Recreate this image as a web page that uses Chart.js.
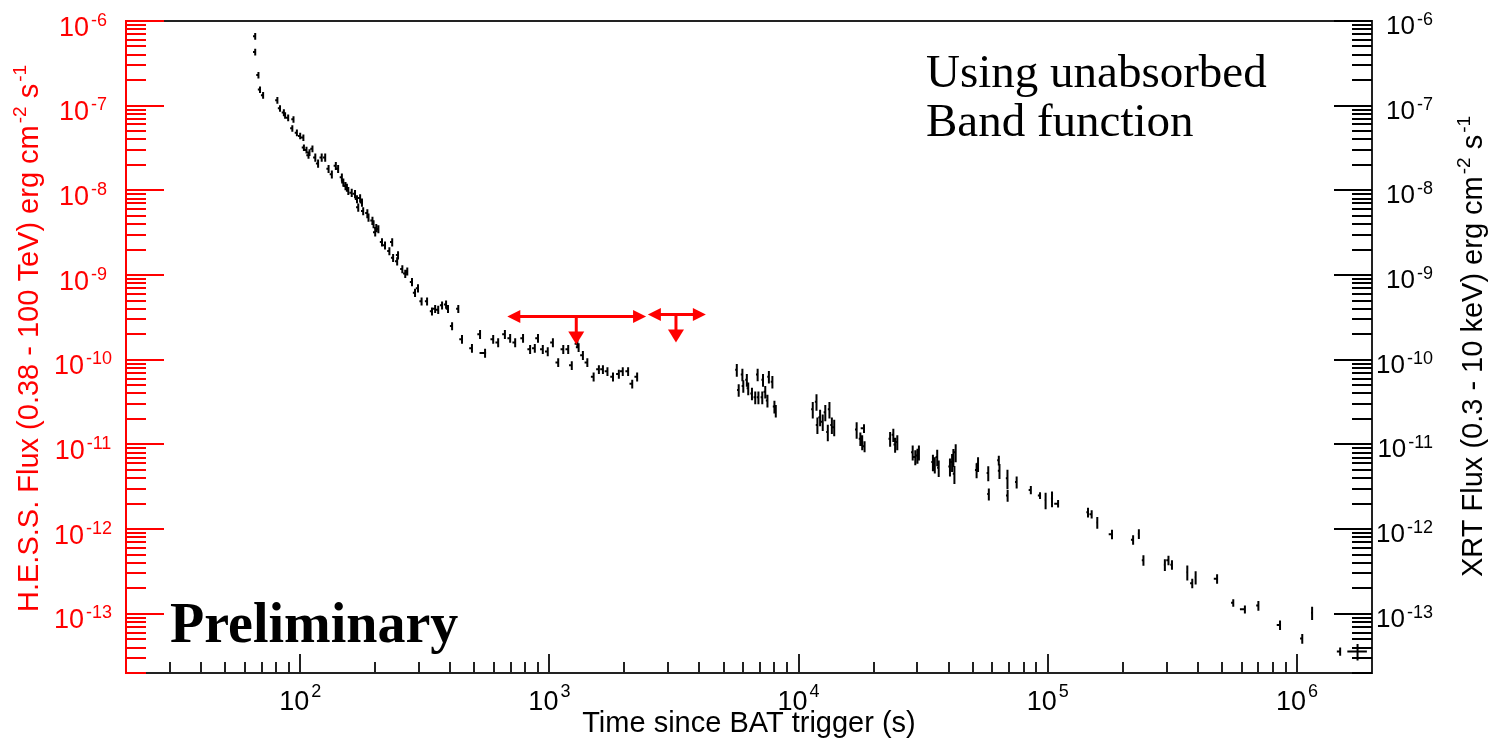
<!DOCTYPE html>
<html>
<head>
<meta charset="utf-8">
<script src="https://cdn.jsdelivr.net/npm/chart.js@4.4.0/dist/chart.umd.min.js"></script>
<style>
html,body{margin:0;padding:0;background:#fff;}
#wrap{width:1495px;height:741px;position:relative;}
</style>
</head>
<body>
<div id="wrap"><canvas id="c"></canvas></div>
<script>
// ---------------- DATA ----------------
// Swift XRT light curve (time since BAT trigger [s], flux [erg cm^-2 s^-1])
const xrtTime = [
 66, 66, 68, 69, 71, 81, 83, 86, 87, 89.5,
 93, 94, 97, 100, 103, 103.5, 106, 108, 109, 112,
 115, 118, 122, 126, 130, 134, 139, 142, 147, 149,
 152, 154, 156, 161, 166, 169, 171, 174, 177, 179,
 186, 188, 195, 197, 200, 202, 206, 213, 219, 228,
 234, 236, 245, 247, 257, 264, 269, 281, 289, 297,
 307, 323, 338, 348, 358, 371, 385, 392, 407, 431,
 446, 489, 527, 552, 595, 623, 663, 696, 729, 784,
 837, 874, 900, 941, 985, 1033, 1085, 1137, 1190, 1230,
 1295, 1310, 1363, 1420, 1505, 1580, 1640, 1710, 1800, 1900,
 1970, 2070, 2150, 2250,
 5650, 5750, 5950, 6000, 6200, 6280, 6500, 6700, 6850, 6900,
 7150, 7200, 7350, 7500, 7600, 7850, 8000, 8100,
 11400, 11800, 11900, 12200, 12500, 12800, 13100, 13300, 13600, 13900,
 17100, 17700, 18000, 18300, 18400,
 23300, 24000, 24400, 24900,
 28700, 29400, 30000, 30400,
 34600, 35200, 36000, 36500,
 40500, 41300, 41800, 42200, 42700,
 51800, 52500, 57700, 58000, 63600, 64000, 68900, 69000, 75000,
 85500, 93100, 98000, 104000, 110000,
 145000, 150000, 158000, 181000, 220000, 232000, 242000,
 295000, 305000, 315000, 363000, 380000, 392000, 478000,
 555000, 618000, 700000, 855000, 1050000, 1150000, 1490000, 1750000
];
const xrtFlux = [
 6.6e-7, 4.3e-7, 2.3e-7, 1.55e-7, 1.33e-7, 1.16e-7, 9.3e-8, 8.3e-8, 7.7e-8, 7.2e-8,
 5.4e-8, 6.9e-8, 4.8e-8, 4.4e-8, 4.2e-8, 3.2e-8, 3.0e-8, 2.6e-8, 2.8e-8, 3.1e-8,
 2.45e-8, 2.08e-8, 2.45e-8, 2.45e-8, 1.8e-8, 1.55e-8, 1.95e-8, 1.8e-8, 1.43e-8, 1.24e-8,
 1.13e-8, 1.08e-8, 9.9e-9, 9.4e-9, 9.1e-9, 7.9e-9, 6.3e-9, 8.1e-9, 7.2e-9, 5.7e-9,
 5.4e-9, 4.8e-9, 4.4e-9, 4.0e-9, 3.2e-9, 3.6e-9, 3.5e-9, 2.45e-9, 2.25e-9, 1.92e-9,
 2.45e-9, 1.6e-9, 1.46e-9, 1.72e-9, 1.18e-9, 1.04e-9, 1.11e-9, 8.3e-10, 6.2e-10, 7.0e-10,
 4.9e-10, 4.9e-10, 3.73e-10, 4.0e-10, 3.9e-10, 4.4e-10, 4.5e-10, 4.0e-10, 2.5e-10, 4.0e-10,
 1.75e-10, 1.37e-10, 2.0e-10, 1.2e-10, 1.75e-10, 1.6e-10, 2.0e-10, 1.8e-10, 1.6e-10, 1.8e-10,
 1.33e-10, 1.37e-10, 1.8e-10, 1.33e-10, 1.25e-10, 1.6e-10, 9.3e-11, 1.33e-10, 1.33e-10, 8.6e-11,
 1.55e-10, 1.4e-10, 1.13e-10, 9.3e-11, 6.3e-11, 7.7e-11, 7.7e-11, 7.3e-11, 6.3e-11, 6.8e-11,
 7.3e-11, 7.3e-11, 5.2e-11, 6.3e-11,
 7.6e-11, 4.4e-11, 6.7e-11, 4.9e-11, 5.8e-11, 4.6e-11, 4.0e-11, 3.6e-11, 6.7e-11, 3.6e-11,
 3.6e-11, 5.8e-11, 4.2e-11, 3.3e-11, 6.3e-11, 5.5e-11, 2.8e-11, 2.5e-11,
 2.6e-11, 3.2e-11, 1.7e-11, 2.1e-11, 1.85e-11, 2.4e-11, 1.4e-11, 2.6e-11, 1.7e-11, 1.6e-11,
 1.5e-11, 1.17e-11, 1.07e-11, 1.55e-11, 9.5e-12,
 1.17e-11, 1.3e-11, 1.0e-11, 1.07e-11,
 8.1e-12, 7.1e-12, 7.4e-12, 8.1e-12,
 6.2e-12, 5.8e-12, 7.1e-12, 5.3e-12,
 5.5e-12, 6.2e-12, 7.1e-12, 4.5e-12, 8.1e-12,
 5.0e-12, 5.9e-12, 4.6e-12, 2.6e-12, 6.5e-12, 4.9e-12, 4.0e-12, 2.5e-12, 3.6e-12,
 2.9e-12, 2.5e-12, 2.2e-12, 2.3e-12, 2.0e-12,
 1.58e-12, 1.5e-12, 1.2e-12, 8.7e-13, 7.5e-13, 8.8e-13, 4.3e-13,
 3.8e-13, 4.3e-13, 3.8e-13, 3.1e-13, 2.3e-13, 2.7e-13, 2.6e-13,
 1.35e-13, 1.13e-13, 1.25e-13, 7.4e-14, 5.1e-14, 1.03e-13, 3.6e-14, 3.6e-14
];
// time-bin extent before the point, in percent of the time
const xrtTimeErrLoPct = [
 2,2,2,2,2,2,2,2,2,2,
 2,2,2,2,2,2,2,2,2,2,
 2,2,2,2,2,2,2,2,2,2,
 2,2,2,2,2,2,2,2,2,2,
 2,2,2,2,2,2,2,2,2,2,
 2,2,2,2,2,2,2,2,2,2,
 2,2,2,2,2,2,2,2,2,2,
 2.5,2.5,2.5,5,2.5,2.5,2.5,2.5,2.5,2.5,
 2.5,2.5,2.5,2.5,2.5,2.5,2.5,2.5,2.5,2.5,
 2.5,2.5,2.5,2.5,2.5,2.5,2.5,2.5,2.5,2.5,
 2.5,2.5,2.5,2.5,
 1.5,1.5,1.5,1.5,1.5,1.5,1.5,1.5,1.5,1.5,
 1.5,1.5,1.5,1.5,1.5,1.5,1.5,1.5,
 1.5,1.5,1.5,1.5,1.5,1.5,1.5,1.5,1.5,1.5,
 1.5,1.5,1.5,3,1.5,
 1.5,1.5,1.5,1.5,
 1.5,1.5,1.5,1.5,
 1.5,1.5,1.5,1.5,
 1.5,1.5,1.5,1.5,1.5,
 1.5,1.5,1.5,1.5,1.5,1.5,1.5,1.5,1.5,
 2,2,1,1,3.5,
 1.5,2,1,3,2,1,1.5,
 1,2,1.5,1,2,1,3,
 2,4.5,2,3,2,1,3,9
];
// time-bin extent after the point, in percent of the time
const xrtTimeErrHiPct = [
 0.4,0.4,0.4,0.4,0.4,0.4,0.4,0.4,0.4,0.4,
 0.4,0.4,0.4,0.4,0.4,0.4,0.4,0.4,0.4,0.4,
 0.4,0.4,0.4,0.4,0.4,0.4,0.4,0.4,0.4,0.4,
 0.4,0.4,0.4,0.4,0.4,0.4,0.4,0.4,0.4,0.4,
 0.4,0.4,0.4,0.4,0.4,0.4,0.4,0.4,0.4,0.4,
 0.4,0.4,0.4,0.4,0.4,0.4,0.4,0.4,0.4,0.4,
 0.4,0.4,0.4,0.4,0.4,0.4,0.4,0.4,0.4,0.4,
 0.4,0.4,0.4,1,0.4,0.4,0.4,0.4,0.4,0.4,
 0.4,0.4,0.4,0.4,0.4,0.4,0.4,0.4,0.4,0.4,
 0.4,0.4,0.4,0.4,0.4,0.4,0.4,0.4,0.4,0.4,
 0.4,0.4,0.4,0.4,
 0.3,0.3,0.3,0.3,0.3,0.3,0.3,0.3,0.3,0.3,
 0.3,0.3,0.3,0.3,0.3,0.3,0.3,0.3,
 0.3,0.3,0.3,0.3,0.3,0.3,0.3,0.3,0.3,0.3,
 0.3,0.3,0.3,0.5,0.3,
 0.3,0.3,0.3,0.3,
 0.3,0.3,0.3,0.3,
 0.3,0.3,0.3,0.3,
 0.3,0.3,0.3,0.3,0.3,
 0.3,0.3,0.3,0.3,0.3,0.3,0.3,0.3,0.3,
 0.3,0.3,0.3,0.3,0.5,
 0.3,0.3,0.3,0.5,0.3,0.3,0.3,
 0.3,0.3,0.3,0.3,0.3,0.3,0.5,
 0.3,0.5,0.3,0.3,0.3,0.3,0.3,9
];
// 1-sigma flux error, in percent of the flux
const xrtFluxErrPct = [
 9,9,9,9,9,9,9,9,9,9,
 9,9,9,9,9,9,9,9,9,9,
 11,11,11,11,11,11,11,11,11,11,
 11,11,11,11,11,11,11,11,11,11,
 11,11,11,11,11,11,11,11,11,11,
 11,11,11,11,11,11,11,11,11,11,
 11,11,11,11,11,11,11,11,11,11,
 12,12,12,12,12,12,12,12,12,12,
 12,12,12,12,12,12,12,12,12,12,
 12,12,12,12,12,12,12,12,12,12,
 12,12,12,12,
 17,17,17,17,17,17,17,17,17,17,
 17,17,17,17,17,17,17,17,
 22,22,22,22,22,22,22,22,22,22,
 22,18,20,12,15,
 20,18,20,20,
 20,20,20,20,
 22,22,22,22,
 24,24,24,24,24,
 20,20,20,16,13,20,26,16,16,
 11,9,22,21,10,
 13,11,16,13,13,13,14,
 16,13,13,20,13,18,13,
 10,11,13,13,13,18,11,22
];
// H.E.S.S. upper limits
const hessStart = [678, 2484];
const hessStop  = [2443, 4246];
const hessTime  = [1282, 3221];
const hessUL    = [3.25e-10, 3.43e-10];

// axes
const xRange = [20, 2e6];
const yRange = [2e-14, 1e-6];
const xLabelExps = [2, 3, 4, 5, 6];
const yLabelExps = [-6, -7, -8, -9, -10, -11, -12, -13];
const xTitle = 'Time since BAT trigger (s)';
const yLeftTitle  = [['H.E.S.S. Flux (0.38 - 100 TeV) erg cm', 0], ['-2', 1], [' s', 0], ['-1', 1]];
const yRightTitle = [['XRT Flux (0.3 - 10 keV) erg cm', 0], ['-2', 1], [' s', 0], ['-1', 1]];
const noteLines = ['Using unabsorbed', 'Band function'];
const stampText = 'Preliminary';

// ---------------- RENDER ----------------
const SANS = '"Liberation Sans", Arial, Helvetica, sans-serif';
const SERIF = '"Liberation Serif", "Times New Roman", serif';
const RED = '#ff0000';

function logTicks(min, max) {
  const out = [];
  for (let e = Math.floor(Math.log10(min)) - 1; e <= Math.ceil(Math.log10(max)); e++) {
    for (let m = 1; m <= 9; m++) {
      const v = m * Math.pow(10, e);
      if (v >= min * 0.9999 && v <= max * 1.0001) out.push({ v: v, major: m === 1 });
    }
  }
  return out;
}

function richWidth(ctx, parts, size, supSize) {
  let w = 0;
  for (const p of parts) {
    ctx.font = (p[1] ? supSize : size) + 'px ' + SANS;
    w += ctx.measureText(p[0]).width + (p[1] ? 2 : 0);
  }
  return w;
}
function drawRich(ctx, parts, x, y, size, supSize, rise, align) {
  const w = richWidth(ctx, parts, size, supSize);
  let cx = align === 'center' ? x - w / 2 : (align === 'right' ? x - w : x);
  ctx.textAlign = 'left';
  ctx.textBaseline = 'alphabetic';
  for (const p of parts) {
    ctx.font = (p[1] ? supSize : size) + 'px ' + SANS;
    if (p[1]) cx += 2;
    ctx.fillText(p[0], cx, p[1] ? y - rise : y);
    cx += ctx.measureText(p[0]).width;
  }
}

const errorBarPlugin = {
  id: 'errorBars',
  afterDatasetsDraw(chart) {
    const ctx = chart.ctx, xs = chart.scales.x, ys = chart.scales.y, a = chart.chartArea;
    ctx.save();
    ctx.beginPath();
    ctx.rect(a.left, a.top, a.right - a.left, a.bottom - a.top);
    ctx.clip();
    // XRT points
    const xrt = chart.data.datasets[0].data;
    ctx.strokeStyle = '#000';
    ctx.lineWidth = 2;
    ctx.beginPath();
    for (const d of xrt) {
      const px = xs.getPixelForValue(d.x), py = ys.getPixelForValue(d.y);
      const x1 = xs.getPixelForValue(d.x * (1 - d.xlo)), x2 = xs.getPixelForValue(d.x * (1 + d.xhi));
      const y1 = ys.getPixelForValue(d.y * (1 + d.ye)), y2 = ys.getPixelForValue(d.y * (1 - d.ye));
      ctx.moveTo(x1, py); ctx.lineTo(x2, py);
      ctx.moveTo(px, y1); ctx.lineTo(px, y2);
    }
    ctx.stroke();
    // H.E.S.S. upper limits
    const ul = chart.data.datasets[1].data;
    ctx.strokeStyle = RED; ctx.fillStyle = RED; ctx.lineWidth = 3;
    function head(tx, ty, dx, dy, len, half) {
      const bx = tx - dx * len, by = ty - dy * len, nx = -dy, ny = dx;
      ctx.beginPath();
      ctx.moveTo(tx, ty);
      ctx.lineTo(bx + nx * half, by + ny * half);
      ctx.lineTo(bx - nx * half, by - ny * half);
      ctx.closePath(); ctx.fill();
    }
    for (const d of ul) {
      const xa = xs.getPixelForValue(d.xmin), xb = xs.getPixelForValue(d.xmax);
      const xc = xs.getPixelForValue(d.x), py = ys.getPixelForValue(d.y);
      ctx.beginPath();
      ctx.moveTo(xa + 8, py); ctx.lineTo(xb - 8, py);
      ctx.moveTo(xc, py); ctx.lineTo(xc, py + 18);
      ctx.stroke();
      head(xa, py, -1, 0, 13, 6.5);
      head(xb, py, 1, 0, 13, 6.5);
      head(xc, py + 28, 0, 1, 13, 8);
    }
    ctx.restore();
  }
};

const framePlugin = {
  id: 'frame',
  afterDraw(chart) {
    const ctx = chart.ctx, xs = chart.scales.x, ys = chart.scales.y, a = chart.chartArea;
    const L = a.left, R = a.right, T = a.top, B = a.bottom;
    ctx.save();
    ctx.lineWidth = 2;
    // frame
    ctx.strokeStyle = '#222';
    ctx.beginPath();
    ctx.moveTo(L, T); ctx.lineTo(R, T); ctx.lineTo(R, B); ctx.lineTo(L, B);
    ctx.stroke();
    // bottom x ticks
    ctx.beginPath();
    for (const t of logTicks(xRange[0], xRange[1])) {
      const px = Math.round(xs.getPixelForValue(t.v));
      ctx.moveTo(px, B); ctx.lineTo(px, B - (t.major ? 19 : 11));
    }
    ctx.stroke();
    // right y ticks
    ctx.strokeStyle = '#000';
    ctx.beginPath();
    for (const t of logTicks(yRange[0], yRange[1])) {
      const py = Math.round(ys.getPixelForValue(t.v));
      ctx.moveTo(R, py); ctx.lineTo(R - (t.major ? 38 : 20), py);
    }
    ctx.stroke();
    // left red axis
    ctx.strokeStyle = RED;
    ctx.beginPath();
    ctx.moveTo(L, T - 1); ctx.lineTo(L, B + 1);
    for (const t of logTicks(yRange[0], yRange[1])) {
      const py = Math.round(ys.getPixelForValue(t.v));
      ctx.moveTo(L, py); ctx.lineTo(L + (t.major ? 38 : 20), py);
    }
    ctx.stroke();

    // tick labels
    ctx.fillStyle = RED;
    for (const e of yLabelExps) {
      const py = ys.getPixelForValue(Math.pow(10, e));
      drawRich(ctx, [['10', 0], [String(e), 1]], 83, py + 14.5, 27, 18, 10, 'center');
    }
    ctx.fillStyle = '#000';
    for (const e of yLabelExps) {
      const py = ys.getPixelForValue(Math.pow(10, e));
      drawRich(ctx, [['10', 0], [String(e), 1]], 1433, py + 13, 26, 18, 9, 'right');
    }
    for (const e of xLabelExps) {
      const px = xs.getPixelForValue(Math.pow(10, e));
      drawRich(ctx, [['10', 0], [String(e), 1]], px, 710, 27, 18, 13, 'center');
    }
    // axis titles
    ctx.font = '29px ' + SANS;
    ctx.textAlign = 'center';
    ctx.textBaseline = 'alphabetic';
    ctx.fillText(xTitle, (L + R) / 2, 732);

    ctx.save();
    ctx.fillStyle = RED;
    ctx.translate(37.5, 612);
    ctx.rotate(-Math.PI / 2);
    drawRich(ctx, yLeftTitle, 0, 0, 29, 19, 12, 'left');
    ctx.restore();

    ctx.save();
    ctx.fillStyle = '#000';
    ctx.translate(1481.5, 577);
    ctx.rotate(-Math.PI / 2);
    drawRich(ctx, yRightTitle, 0, 0, 29, 19, 12, 'left');
    ctx.restore();

    // annotations
    ctx.fillStyle = '#000';
    ctx.textAlign = 'left';
    ctx.font = '47px ' + SERIF;
    ctx.fillText(noteLines[0], 926, 87);
    ctx.fillText(noteLines[1], 926, 136);
    ctx.font = 'bold 56px ' + SERIF;
    ctx.fillText(stampText, 170, 642);
    ctx.restore();
  }
};

const xrtPoints = xrtTime.map((t, i) => ({
  x: t, y: xrtFlux[i],
  xlo: xrtTimeErrLoPct[i] / 100, xhi: xrtTimeErrHiPct[i] / 100,
  ye: xrtFluxErrPct[i] / 100
}));
const hessPoints = hessTime.map((t, i) => ({ x: t, y: hessUL[i], xmin: hessStart[i], xmax: hessStop[i] }));

new Chart(document.getElementById('c'), {
  type: 'scatter',
  data: {
    datasets: [
      { label: 'XRT', data: xrtPoints, pointRadius: 0, borderColor: '#000', backgroundColor: '#000' },
      { label: 'H.E.S.S. UL', data: hessPoints, pointRadius: 0, borderColor: RED, backgroundColor: RED }
    ]
  },
  options: {
    responsive: true,
    maintainAspectRatio: false,
    animation: false,
    events: [],
    layout: { padding: { left: 126, right: 123, top: 21, bottom: 68 } },
    plugins: { legend: { display: false }, tooltip: { enabled: false } },
    scales: {
      x: { type: 'logarithmic', min: xRange[0], max: xRange[1], display: false },
      y: { type: 'logarithmic', min: yRange[0], max: yRange[1], display: false }
    }
  },
  plugins: [errorBarPlugin, framePlugin]
});
</script>
</body>
</html>
